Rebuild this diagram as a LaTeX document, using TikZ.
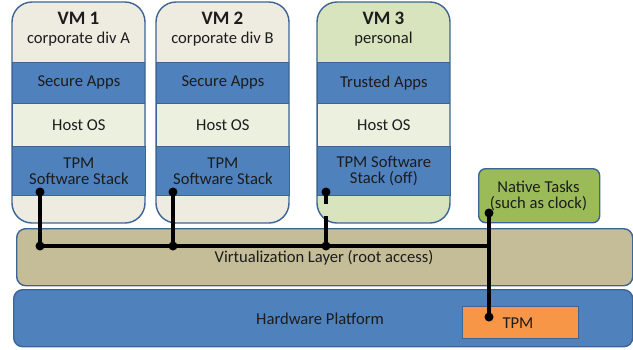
\documentclass[tikz,border=0pt]{standalone}
\usepackage{fontspec}
\setmainfont{Carlito}
\definecolor{bandblue}{HTML}{4F81BD}
\definecolor{edgeblue}{HTML}{3C6494}
\definecolor{paleTan}{HTML}{EEECE1}
\definecolor{paleGreen}{HTML}{EBF1DE}
\definecolor{softGreen}{HTML}{D7E4BD}
\definecolor{virtTan}{HTML}{C4BD97}
\definecolor{nativeGreen}{HTML}{9BBB59}
\definecolor{tpmOrange}{HTML}{F79646}
\definecolor{ink}{HTML}{1C1C1C}
\tikzset{
  txt/.style={font=\fontsize{16.6}{19}\selectfont, text=ink, align=center},
  band/.style={txt, draw=edgeblue, line width=0.8pt, minimum width=133pt, inner sep=0pt, anchor=north west},
  vmhead/.style={txt, align=center},
  wire/.style={line width=3.2pt, black},
  dot/.style={circle, fill=black, inner sep=0pt, minimum size=9pt},
}
\newcommand{\vmtitle}[1]{\textbf{\fontsize{19}{21}\selectfont #1}}
\newcommand{\vmcolumn}[5]{% #1 left x, #2 name, #3 header colour, #4 header text, #5 apps text
  \begin{scope}
    \clip[rounded corners=20pt] (#1,2) rectangle ++(133,221);
    \fill[#3] (#1,2) rectangle ++(133,221);
    \node[band, fill=bandblue, minimum height=41pt] (#2apps) at (#1,62) {#5};
    \node[band, fill=paleGreen, minimum height=43pt] (#2os) at (#1,103) {Host OS};
  \end{scope}
  \node[vmhead] (#2head) at (#1+66.5,29) {#4};
  \draw[edgeblue, line width=1.4pt, rounded corners=20pt] (#1,2) rectangle ++(133,221);
}
\begin{document}
\begin{tikzpicture}[x=1pt, y=-1pt]
\useasboundingbox (0,0) rectangle (633,349);

% guest machines
\vmcolumn{12}{a}{paleTan}{\vmtitle{VM 1}\\[0pt]corporate div A}{Secure Apps}
\vmcolumn{156}{b}{paleTan}{\vmtitle{VM 2}\\[0pt]corporate div B}{Secure Apps}
\vmcolumn{317}{c}{softGreen}{\vmtitle{VM 3}\\[0pt]personal}{Trusted Apps}

% software stacks
\node[band, fill=bandblue, minimum height=49pt] (astack) at (12,146) {TPM\\[-3pt]Software Stack};
\node[band, fill=bandblue, minimum height=49pt] (bstack) at (156,146) {TPM\\[-3pt]Software Stack};
\node[band, fill=bandblue, minimum height=49pt] (cstack) at (317,146) {TPM Software\\[-3pt]Stack (off)};

% host layers
\node[txt, draw=edgeblue, line width=1.4pt, fill=virtTan, rounded corners=9pt,
      minimum width=616pt, minimum height=57pt, anchor=north west, inner sep=0pt] (virt) at (16,228) {};
\node[txt] (virtlabel) at (324,258) {Virtualization Layer (root access)};
\node[txt, draw=edgeblue, line width=1.4pt, fill=bandblue, rounded corners=9pt,
      minimum width=619pt, minimum height=57pt, anchor=north west, inner sep=0pt] (hw) at (13,289) {};
\node[txt] (hwlabel) at (320,319) {Hardware Platform};
\node[txt, draw=edgeblue, line width=0.8pt, fill=tpmOrange, minimum width=116pt,
      minimum height=32pt, anchor=north west, inner sep=0pt] (tpm) at (462,306) {};
\node[txt] (tpmlabel) at (518,323) {TPM};
\node[txt, draw=edgeblue, line width=1.4pt, fill=nativeGreen, rounded corners=7pt,
      minimum width=121pt, minimum height=54pt, anchor=north west, inner sep=0pt] (native) at (478,168) {};
\node[txt] (nativelabel) at (538.5,195.5) {Native Tasks\\[-3pt](such as clock)};

% connection points
\node[dot] (pa) at (40,192) {};
\node[dot] (ja) at (40,246) {};
\node[dot] (pb) at (173,192) {};
\node[dot] (jb) at (173,246) {};
\node[dot] (pc) at (326,192) {};
\node[dot] (jc) at (326,246) {};
\node[dot] (pn) at (489,213) {};
\node[dot] (pt) at (489,317) {};
\coordinate (jn) at (489,246);
\coordinate (cbreakA) at (326,204);
\coordinate (cbreakB) at (326,216);

% wiring
\draw[wire] (pa.center) -- (ja.center) -- (jn);
\draw[wire] (pb.center) -- (jb.center);
\draw[wire] (pc.center) -- (cbreakA);
\draw[wire] (cbreakB) -- (jc.center);
\draw[wire] (pn.center) -- (pt.center);
\end{tikzpicture}
\end{document}
